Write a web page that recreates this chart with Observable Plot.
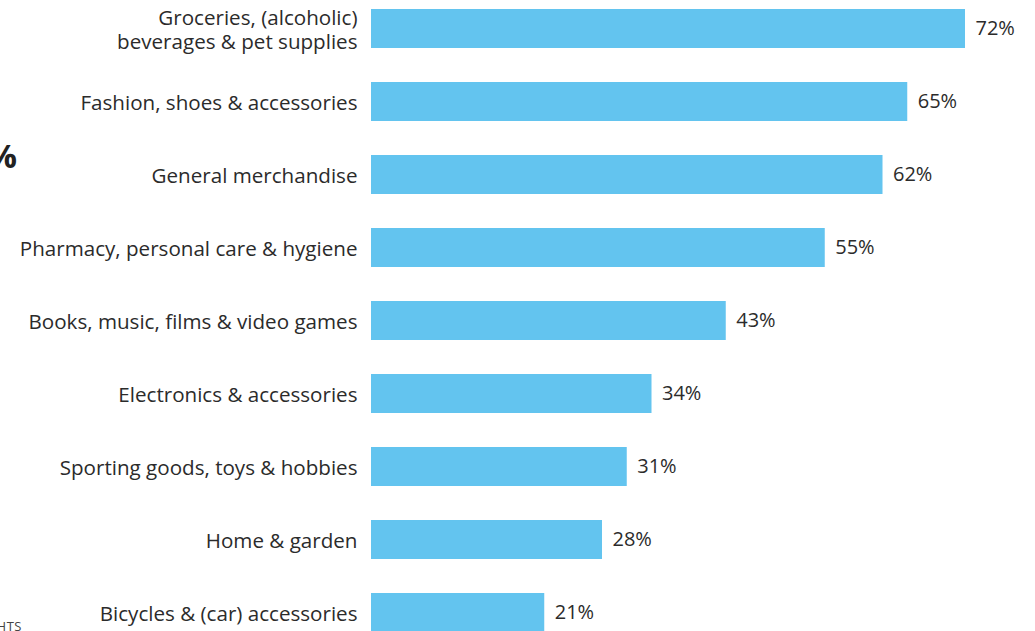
<!DOCTYPE html>
<html>
<head>
<meta charset="utf-8">
<script src="https://cdn.jsdelivr.net/npm/d3@7"></script>
<script src="https://cdn.jsdelivr.net/npm/@observablehq/plot@0.6"></script>
<style>
  html, body { margin: 0; padding: 0; background: #fff; overflow: hidden; }
  #wrap { position: relative; width: 1035px; height: 631px; overflow: hidden; font-family: "Open Sans", sans-serif; }
  #pct { position: absolute; left: -200px; width: 217px; top: 136px; text-align: right; font-size: 33px; font-weight: 700; color: #222; line-height: 40px; }
  #note { position: absolute; left: -200px; width: 222px; top: 618px; text-align: right; font-size: 13px; color: #444; letter-spacing: 0.5px; line-height: 16px; }
  #chart { position: absolute; left: 0; top: 0; }
</style>
</head>
<body>
<div id="wrap">
  <div id="pct">%</div>
  <div id="note">RIGHTS</div>
  <div id="chart"></div>
</div>
<script>
const categories = [
  "Groceries, (alcoholic)\nbeverages & pet supplies",
  "Fashion, shoes & accessories",
  "General merchandise",
  "Pharmacy, personal care & hygiene",
  "Books, music, films & video games",
  "Electronics & accessories",
  "Sporting goods, toys & hobbies",
  "Home & garden",
  "Bicycles & (car) accessories"
];
const values = [72, 65, 62, 55, 43, 34, 31, 28, 21];

const data = categories.map((c, i) => ({category: c, value: values[i]}));

const chart = Plot.plot({
  width: 1035,
  height: 631,
  marginLeft: 371,
  marginRight: 70,
  marginTop: 0,
  marginBottom: 0,
  style: {fontFamily: "'Open Sans', sans-serif", background: "transparent", overflow: "visible"},
  x: {domain: [0, 72], axis: null},
  y: {domain: categories, range: [7.5, 633.5], paddingInner: 0.47, paddingOuter: 0, axis: null},
  marks: [
    Plot.barX(data, {x: "value", y: "category", fill: "#63c4ef"}),
    Plot.text(data, {x: 0, y: "category", text: "category", textAnchor: "end", dx: -14, fontSize: 20.6, fill: "#2b2b2b", lineHeight: 1.17}),
    Plot.text(data, {x: "value", y: "category", text: d => d.value + "%", textAnchor: "start", dx: 10, fontSize: 20, fill: "#2b2b2b"})
  ]
});
document.getElementById("chart").appendChild(chart);
</script>
</body>
</html>
